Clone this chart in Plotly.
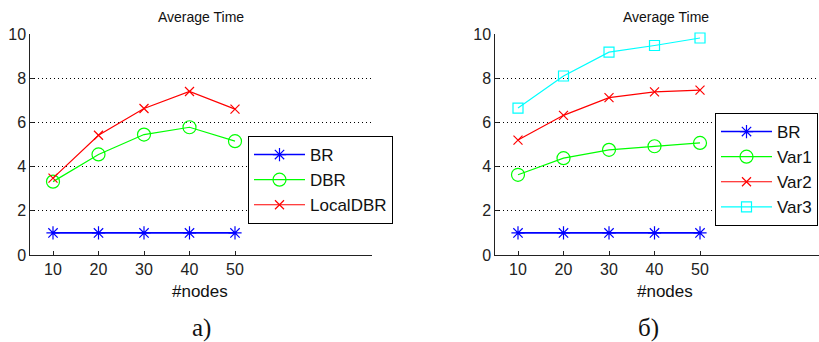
import plotly.graph_objects as go

nodes = [10, 20, 30, 40, 50]
br = [1, 1, 1, 1, 1]
dbr = [3.32, 4.55, 5.45, 5.78, 5.15]
local_dbr = [3.48, 5.42, 6.63, 7.40, 6.60]
var1 = [3.63, 4.38, 4.76, 4.92, 5.07]
var2 = [5.20, 6.32, 7.12, 7.38, 7.46]
var3 = [6.65, 8.10, 9.18, 9.48, 9.82]
x_ticks = [10, 20, 30, 40, 50]
y_ticks = [0, 2, 4, 6, 8, 10]

BLUE, GREEN, RED, CYAN = "#0000ff", "#00ff00", "#ff0000", "#00ffff"
FONT = "Liberation Sans, Arial, sans-serif"

def tr(y, name, color, symbol, size, xa, ya, legend, lw=1.2):
    return go.Scatter(
        x=nodes, y=y, name=name, mode="lines+markers", cliponaxis=False,
        line=dict(color=color, width=lw),
        marker=dict(symbol=symbol, size=size, color=color,
                    line=dict(color=color, width=1.2)),
        xaxis=xa, yaxis=ya, legend=legend,
    )

fig = go.Figure()
fig.add_trace(tr(br, "BR", BLUE, "asterisk-open", 11, "x", "y", "legend", 1.6))
fig.add_trace(tr(dbr, "DBR", GREEN, "circle-open", 13, "x", "y", "legend"))
fig.add_trace(tr(local_dbr, "LocalDBR", RED, "x-thin-open", 9, "x", "y", "legend"))

fig.add_trace(tr(br, "BR", BLUE, "asterisk-open", 11, "x2", "y2", "legend2", 1.6))
fig.add_trace(tr(var1, "Var1", GREEN, "circle-open", 13, "x2", "y2", "legend2"))
fig.add_trace(tr(var2, "Var2", RED, "x-thin-open", 9, "x2", "y2", "legend2"))
fig.add_trace(tr(var3, "Var3", CYAN, "square-open", 10, "x2", "y2", "legend2"))

W, H = 819, 342
ydom = [87 / H, 308 / H]

xcommon = dict(tickvals=x_ticks, ticks="inside", ticklen=4, tickcolor="#222",
               showline=True, linecolor="#222", linewidth=1, showgrid=False,
               zeroline=False, tickfont=dict(family=FONT, size=16, color="#222"))
ycommon = dict(range=[0, 10], tickvals=y_ticks, ticks="inside", ticklen=4,
               tickcolor="#222", showline=True, linecolor="#222", linewidth=1,
               showgrid=True, gridcolor="#000", gridwidth=1, griddash="1px,3px",
               zeroline=False, tickfont=dict(family=FONT, size=16, color="#222"))

legcommon = dict(bgcolor="white", bordercolor="#000", borderwidth=1,
                 font=dict(family=FONT, size=17, color="#111"),
                 xanchor="left", yanchor="top", tracegroupgap=0, itemwidth=51)

fig.update_layout(
    width=W, height=H,
    margin=dict(l=0, r=0, t=0, b=0, autoexpand=False),
    paper_bgcolor="white", plot_bgcolor="white",
    font=dict(family=FONT, color="#111"),
    xaxis=dict(domain=[30.25 / W, 371.5 / W], range=[5, 80], anchor="y", **xcommon),
    yaxis=dict(domain=ydom, anchor="x", **ycommon),
    xaxis2=dict(domain=[495.25 / W, 1.0], range=[5, 76.15], anchor="y2", **xcommon),
    yaxis2=dict(domain=ydom, anchor="x2", **ycommon),
    legend=dict(x=248 / W, y=(H - 136) / H, **legcommon),
    legend2=dict(x=715 / W, y=(H - 113) / H, **legcommon),
    showlegend=True,
)

def ann(text, x, y, size, family=FONT):
    fig.add_annotation(text=text, x=x / W, y=(H - y) / H, xref="paper", yref="paper",
                       showarrow=False, xanchor="center", yanchor="middle",
                       font=dict(family=family, size=size, color="#111"))

ann("Average Time", 201, 17, 14)
ann("Average Time", 666, 17, 14)
ann("#nodes", 200, 291, 17)
ann("#nodes", 665, 291, 17)
ann("a)", 201, 328, 25, "Liberation Serif, Times New Roman, serif")
ann("б)", 648, 328, 25, "Liberation Serif, Times New Roman, serif")

fig.write_html("out.html")
